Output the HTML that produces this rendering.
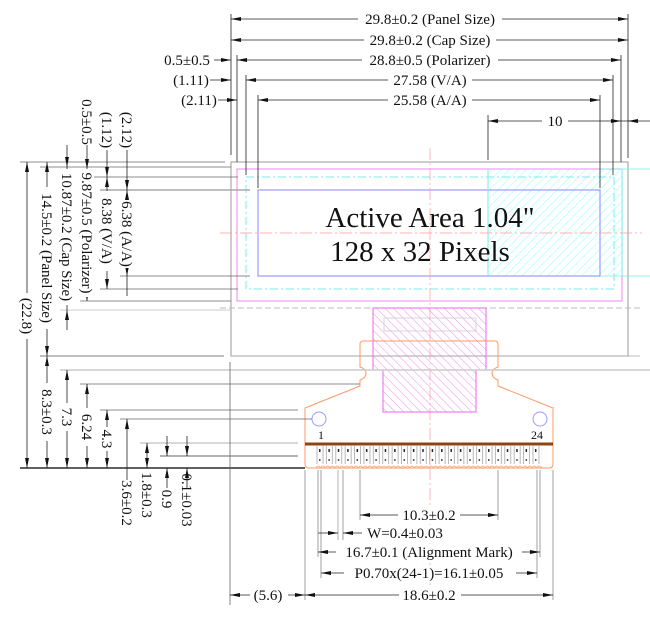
<!DOCTYPE html>
<html><head><meta charset="utf-8"><style>
html,body{margin:0;padding:0;background:#fff;width:650px;height:618px;overflow:hidden}
svg{display:block}
text{font-family:"Liberation Serif",serif;fill:#111;font-size:15px}
</style></head><body>
<svg width="650" height="618" viewBox="0 0 650 618" xmlns="http://www.w3.org/2000/svg">
<defs>
<marker id="a" viewBox="0 0 10 4" refX="10" refY="2" markerWidth="10" markerHeight="4" orient="auto-start-reverse" markerUnits="userSpaceOnUse"><path d="M0,0L10,2L0,4z" fill="#111"/></marker>
<pattern id="hc" width="6" height="6" patternUnits="userSpaceOnUse" patternTransform="rotate(45)"><line x1="0" y1="0" x2="0" y2="6" stroke="#7ff" stroke-width="0.8"/></pattern>
<pattern id="hm" width="6" height="6" patternUnits="userSpaceOnUse" patternTransform="rotate(-45)"><line x1="0" y1="0" x2="0" y2="6" stroke="#e6e" stroke-width="0.8"/></pattern>
<pattern id="pads" x="316" y="446" width="9.39" height="22" patternUnits="userSpaceOnUse"><line x1="1" y1="0" x2="1" y2="18" stroke="#999" stroke-width="0.7"/><line x1="7" y1="0" x2="7" y2="18" stroke="#999" stroke-width="0.7"/><rect x="3" y="3" width="1.5" height="3" fill="#222"/><rect x="3" y="13" width="1.5" height="2" fill="#555"/><path d="M0,22 q2,-4 4.7,0 q2,-4 4.7,0" fill="none" stroke="#f96" stroke-width="0.7"/></pattern>
</defs>

<g fill="none">
<rect x="231" y="162" width="397" height="194" stroke="#999" stroke-width="1"/>
<rect x="488" y="169" width="134" height="107" fill="url(#hc)"/>
<rect x="237" y="169" width="385" height="132" stroke="#e8e" stroke-width="1"/>
<rect x="246" y="177" width="368" height="112" stroke="#7ee" stroke-width="1" stroke-dasharray="8,3,2,3"/>
<rect x="258" y="190" width="342" height="86" stroke="#99f" stroke-width="1.2"/>
<line x1="488" y1="169" x2="488" y2="276" stroke="#7ee"/>
<line x1="622" y1="169" x2="622" y2="276" stroke="#7ee"/>
<line x1="600" y1="169" x2="650" y2="169" stroke="#7ee" stroke-width="0.7"/>
<line x1="600" y1="276" x2="650" y2="276" stroke="#7ee" stroke-width="0.7"/>
<line x1="220" y1="233" x2="642" y2="233" stroke="#f99" stroke-width="0.7" stroke-dasharray="12,3,2,3"/>
<line x1="430" y1="148" x2="430" y2="600" stroke="#f99" stroke-width="0.7" stroke-dasharray="12,3,2,3"/>
<line x1="220" y1="308" x2="640" y2="308" stroke="#bbb" stroke-dasharray="6,3"/>
</g>
<text x="430" y="227" text-anchor="middle" style="font-size:29px">Active Area 1.04"</text>
<text x="420" y="261" text-anchor="middle" style="font-size:29px">128 x 32 Pixels</text>

<path d="M373,308H486V370H476V412H383V370H373Z" fill="url(#hm)" stroke="#e6e" stroke-width="1"/>
<rect x="384" y="318" width="92" height="13" fill="none" stroke="#ccc" stroke-width="0.8"/>
<path d="M364,341H495q3,0 3,3V367q-6,2 -6,6q0,5 6,7V386L553,408V464q0,4 -4,4H309q-4,0 -4,-4V408L360,386V380q6,-2 6,-7q0,-4 -6,-6V344q0,-3 4,-3Z" fill="none" stroke="#f96" stroke-width="1"/>
<rect x="316" y="446" width="226" height="22" fill="url(#pads)"/>
<line x1="305" y1="444" x2="553" y2="444" stroke="#8a4513" stroke-width="3"/>
<circle cx="319" cy="419" r="7" fill="none" stroke="#99f"/>
<circle cx="540" cy="419" r="7" fill="none" stroke="#99f"/>
<text x="321" y="439" text-anchor="middle" style="font-size:12px">1</text>
<text x="537" y="439" text-anchor="middle" style="font-size:12px">24</text>

<g stroke="#222" stroke-width="0.8">
<line x1="231" y1="14" x2="231" y2="155"/><line x1="628" y1="14" x2="628" y2="158"/>
<line x1="237" y1="55" x2="237" y2="162"/><line x1="621" y1="55" x2="621" y2="162"/>
<line x1="246" y1="75" x2="246" y2="175"/><line x1="613" y1="75" x2="613" y2="175"/>
<line x1="258" y1="95" x2="258" y2="188"/><line x1="600" y1="95" x2="600" y2="188"/>
<line x1="488" y1="115" x2="488" y2="160"/>
<line x1="231" y1="19" x2="628" y2="19" marker-start="url(#a)" marker-end="url(#a)"/>
<line x1="231" y1="40" x2="628" y2="40" marker-start="url(#a)" marker-end="url(#a)"/>
<line x1="237" y1="60" x2="621" y2="60" marker-start="url(#a)" marker-end="url(#a)"/>
<line x1="246" y1="80" x2="613" y2="80" marker-start="url(#a)" marker-end="url(#a)"/>
<line x1="258" y1="100" x2="600" y2="100" marker-start="url(#a)" marker-end="url(#a)"/>
<line x1="488" y1="121" x2="621" y2="121" marker-start="url(#a)" marker-end="url(#a)"/>
<line x1="214" y1="60" x2="231" y2="60" marker-end="url(#a)"/>
<line x1="210" y1="80" x2="231" y2="80" marker-end="url(#a)"/>
<line x1="218" y1="100" x2="237" y2="100" marker-end="url(#a)"/>
<line x1="621" y1="121" x2="650" y2="121"/>
<line x1="638" y1="121" x2="628" y2="121" marker-end="url(#a)"/>
</g>
<g text-anchor="middle">
<rect x="358" y="10" width="144" height="17" fill="#fff"/><text x="430" y="24">29.8±0.2 (Panel Size)</text>
<rect x="364" y="31" width="132" height="17" fill="#fff"/><text x="430" y="45">29.8±0.2 (Cap Size)</text>
<rect x="362" y="51" width="136" height="17" fill="#fff"/><text x="430" y="65">28.8±0.5 (Polarizer)</text>
<rect x="388" y="71" width="84" height="17" fill="#fff"/><text x="430" y="85">27.58 (V/A)</text>
<rect x="388" y="91" width="84" height="17" fill="#fff"/><text x="430" y="105">25.58 (A/A)</text>
<rect x="542" y="112" width="26" height="17" fill="#fff"/><text x="555" y="126">10</text>
<text x="187" y="65">0.5±0.5</text>
<text x="191" y="85">(1.11)</text>
<text x="199" y="105">(2.11)</text>
</g>

<g stroke="#666" stroke-width="0.8">
<line x1="20" y1="162" x2="225" y2="162"/>
<line x1="40" y1="167" x2="231" y2="167"/>
<line x1="80" y1="177" x2="238" y2="177"/>
<line x1="100" y1="190" x2="250" y2="190" stroke="#aaa" stroke-width="1.5"/>
<line x1="120" y1="276" x2="250" y2="276"/>
<line x1="100" y1="289" x2="238" y2="289"/>
<line x1="80" y1="301" x2="231" y2="301"/>
<line x1="60" y1="310" x2="231" y2="310" stroke="#bbb"/>
<line x1="40" y1="356" x2="224" y2="356" stroke="#aaa" stroke-width="1.5"/>
<line x1="60" y1="370" x2="650" y2="370" stroke="#ccc" stroke-width="1.5"/>
<line x1="80" y1="384" x2="360" y2="384"/>
<line x1="100" y1="410" x2="298" y2="410"/>
<line x1="120" y1="419" x2="312" y2="419"/>
<line x1="140" y1="443" x2="298" y2="443" stroke="#ccc" stroke-width="1.5"/>
<line x1="160" y1="456" x2="298" y2="456" stroke="#999" stroke-width="1.5"/>
<line x1="20" y1="468" x2="305" y2="468" stroke="#000" stroke-width="1.2"/>
<line x1="230" y1="362" x2="230" y2="605"/>
<line x1="231" y1="356" x2="640" y2="356" stroke="#aaa"/>
</g>

<g stroke="#222" stroke-width="0.8">
<line x1="27" y1="162" x2="27" y2="468" marker-start="url(#a)" marker-end="url(#a)"/>
<line x1="47" y1="162" x2="47" y2="356" marker-start="url(#a)" marker-end="url(#a)"/>
<line x1="47" y1="356" x2="47" y2="468" marker-start="url(#a)" marker-end="url(#a)"/>
<line x1="67" y1="145" x2="67" y2="167" marker-end="url(#a)"/>
<line x1="67" y1="167" x2="67" y2="310"/>
<line x1="67" y1="330" x2="67" y2="310" marker-end="url(#a)"/>
<line x1="67" y1="370" x2="67" y2="468" marker-start="url(#a)" marker-end="url(#a)"/>
<line x1="87" y1="145" x2="87" y2="169" marker-end="url(#a)"/>
<line x1="87" y1="169" x2="87" y2="301" marker-end="url(#a)" marker-start="url(#a)"/>
<line x1="87" y1="384" x2="87" y2="468" marker-start="url(#a)" marker-end="url(#a)"/>
<line x1="107" y1="150" x2="107" y2="177" marker-end="url(#a)"/>
<line x1="107" y1="177" x2="107" y2="289" marker-start="url(#a)" marker-end="url(#a)"/>
<line x1="107" y1="410" x2="107" y2="468" marker-start="url(#a)" marker-end="url(#a)"/>
<line x1="127" y1="150" x2="127" y2="190" marker-end="url(#a)"/>
<line x1="127" y1="190" x2="127" y2="276" marker-start="url(#a)" marker-end="url(#a)"/>
<line x1="127" y1="276" x2="127" y2="296"/>
<line x1="127" y1="419" x2="127" y2="480" marker-start="url(#a)"/>
<line x1="147" y1="443" x2="147" y2="468" marker-start="url(#a)" marker-end="url(#a)"/>
<line x1="167" y1="436" x2="167" y2="456" marker-end="url(#a)"/>
<line x1="167" y1="488" x2="167" y2="468" marker-end="url(#a)"/>
<line x1="187" y1="436" x2="187" y2="456" marker-end="url(#a)"/>
<line x1="187" y1="488" x2="187" y2="468" marker-end="url(#a)"/>
</g>
<g text-anchor="middle">
<rect x="20" y="293" width="14" height="46" fill="#fff"/><text transform="translate(22,316) rotate(90)">(22.8)</text>
<rect x="40" y="187" width="14" height="142" fill="#fff"/><text transform="translate(42,258) rotate(90)">14.5±0.2 (Panel Size)</text>
<rect x="40" y="383" width="14" height="58" fill="#fff"/><text transform="translate(42,412) rotate(90)">8.3±0.3</text>
<rect x="60" y="169" width="14" height="136" fill="#fff"/><text transform="translate(62,237) rotate(90)">10.87±0.2 (Cap Size)</text>
<rect x="60" y="403" width="14" height="28" fill="#fff"/><text transform="translate(62,417) rotate(90)">7.3</text>
<rect x="80" y="169" width="14" height="128" fill="#fff"/><text transform="translate(82,233) rotate(90)">9.87±0.5 (Polarizer)</text>
<rect x="80" y="408" width="14" height="38" fill="#fff"/><text transform="translate(82,427) rotate(90)">6.24</text>
<text transform="translate(82,122) rotate(90)">0.5±0.5</text>
<rect x="100" y="191" width="14" height="80" fill="#fff"/><text transform="translate(102,231) rotate(90)">8.38 (V/A)</text>
<text transform="translate(102,130) rotate(90)">(1.12)</text>
<rect x="100" y="427" width="14" height="24" fill="#fff"/><text transform="translate(102,439) rotate(90)">4.3</text>
<rect x="120" y="200" width="14" height="68" fill="#fff"/><text transform="translate(122,234) rotate(90)">6.38 (A/A)</text>
<text transform="translate(122,130) rotate(90)">(2.12)</text>
<text transform="translate(122,503) rotate(90)">3.6±0.2</text>
<text transform="translate(142,495) rotate(90)">1.8±0.3</text>
<text transform="translate(162,499) rotate(90)">0.9</text>
<text transform="translate(182,500) rotate(90)">0.1±0.03</text>
</g>

<g stroke="#888" stroke-width="0.8">
<line x1="305" y1="470" x2="305" y2="600"/><line x1="553" y1="470" x2="553" y2="600"/>
<line x1="318" y1="470" x2="318" y2="557"/><line x1="540" y1="470" x2="540" y2="557"/>
<line x1="321" y1="470" x2="321" y2="578"/><line x1="537" y1="470" x2="537" y2="578"/>
<line x1="360" y1="470" x2="360" y2="520"/><line x1="498" y1="470" x2="498" y2="520"/>
<line x1="338" y1="470" x2="338" y2="540" stroke="#ccc" stroke-width="1.5"/>
<line x1="343" y1="470" x2="343" y2="540"/>
</g>
<g stroke="#222" stroke-width="0.8">
<line x1="360" y1="515" x2="498" y2="515" marker-start="url(#a)" marker-end="url(#a)"/>
<line x1="318" y1="533" x2="338" y2="533" marker-end="url(#a)"/>
<line x1="363" y1="533" x2="343" y2="533" marker-end="url(#a)"/>
<line x1="318" y1="552" x2="540" y2="552" marker-start="url(#a)" marker-end="url(#a)"/>
<line x1="321" y1="573" x2="537" y2="573" marker-start="url(#a)" marker-end="url(#a)"/>
<line x1="305" y1="595" x2="553" y2="595" marker-start="url(#a)" marker-end="url(#a)"/>
<line x1="230" y1="595" x2="305" y2="595" marker-start="url(#a)" marker-end="url(#a)"/>
</g>
<g text-anchor="middle">
<rect x="398" y="507" width="62" height="17" fill="#fff"/><text x="429" y="520">10.3±0.2</text>
<rect x="362" y="525" width="86" height="17" fill="#fff"/><text x="405" y="538">W=0.4±0.03</text>
<rect x="336" y="544" width="186" height="17" fill="#fff"/><text x="429" y="557">16.7±0.1 (Alignment Mark)</text>
<rect x="344" y="565" width="172" height="17" fill="#fff"/><text x="429" y="578">P0.70x(24-1)=16.1±0.05</text>
<rect x="399" y="587" width="62" height="17" fill="#fff"/><text x="429" y="600">18.6±0.2</text>
<rect x="250" y="587" width="38" height="17" fill="#fff"/><text x="268" y="600">(5.6)</text>
</g>
</svg>
</body></html>
